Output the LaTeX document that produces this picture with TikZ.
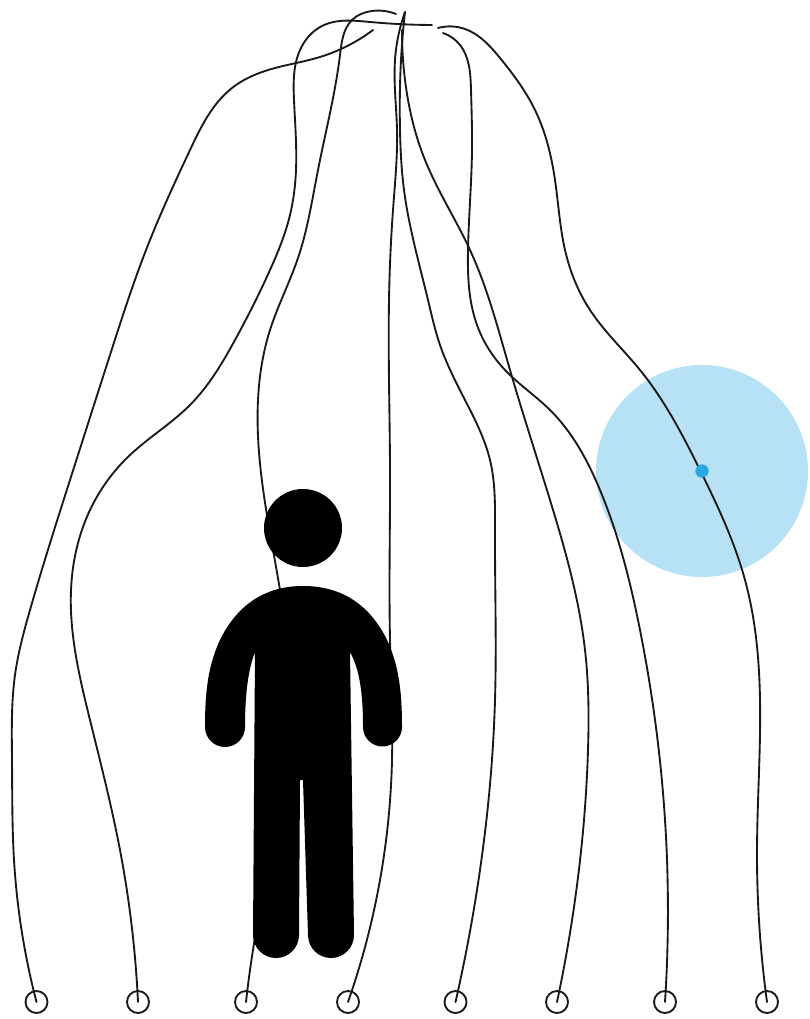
\documentclass[tikz,border=0pt]{standalone}
\usetikzlibrary{hobby}
\begin{document}
\begin{tikzpicture}[x=0.75pt,y=-0.75pt,
  wire/.style={draw=black!90,line width=1.4pt,line cap=round,use Hobby shortcut},
  port/.style={circle,draw=black!90,line width=1.4pt,minimum size=16.5pt,inner sep=0pt,fill=white},
  figure/.style={fill=black,draw=none}]
\useasboundingbox (0,0) rectangle (809,1019);
\definecolor{halo}{HTML}{B7E2F5}
\definecolor{spot}{HTML}{29A9E0}
\fill[halo] (702,471) circle[radius=106];
% ports
\node[port] (p1) at (36.5,1002) {};
\node[port] (p2) at (138,1002) {};
\node[port] (p3) at (246,1002) {};
\node[port] (p4) at (348,1002) {};
\node[port] (p5) at (455.5,1002) {};
\node[port] (p6) at (557,1002) {};
\node[port] (p7) at (665,1002) {};
\node[port] (p8) at (767,1002) {};
% free ends
\coordinate (a) at (373,30);
\coordinate (b) at (432,25);
\coordinate (c) at (396,14);
\coordinate (d) at (405,12);
\coordinate (e) at (402,30);
\coordinate (f) at (443,33);
\coordinate (g) at (438,28);
% wires
\draw[wire] (a) .. (320,57) .. (265,71) .. (232,88) .. (190,150) .. (148,245) .. (110,355) .. (70,480) .. (30,610) .. (15,675) .. (12,760) .. (14,860) .. (p1.center);
\draw[wire] (b) .. (370,22) .. (322,26) .. (300,50) .. (294,100) .. (296,170) .. (290,215) .. (270,270) .. (235,340) .. (190,405) .. (130,455) .. (90,510) .. (71,590) .. (90,720) .. (120,850) .. (p2.center);
\draw[wire] (c) .. (372,11) .. (352,20) .. (340,55) .. (318,170) .. (298,258) .. (270,330) .. (258,400) .. (280,590) .. (290,750) .. (262,900) .. (p3.center);
\draw[wire] (d) .. (401,60) .. (400,130) .. (404,190) .. (428,300) .. (440,345) .. (465,400) .. (490,460) .. (495,530) .. (495,700) .. (480,870) .. (p5.center);
\draw[wire] (d) .. (395,60) .. (397,130) .. (393,210) .. (389,300) .. (390,470) .. (390,640) .. (392,760) .. (380,880) .. (p4.center);
\draw[wire] (e) .. (405,80) .. (425,160) .. (470,250) .. (510,370) .. (550,500) .. (585,650) .. (588,750) .. (575,900) .. (p6.center);
\draw[wire] (f) .. (460,45) .. (471,90) .. (472,150) .. (468,250) .. (477,325) .. (505,370) .. (550,410) .. (600,490) .. (640,630) .. (665,820) .. (p7.center);
\draw[wire] (g) .. (465,29) .. (500,58) .. (535,110) .. (555,180) .. (565,250) .. (590,310) .. (640,370) .. (700,470) .. (745,580) .. (760,700) .. (757,850) .. (p8.center);
% marker
\node[circle,fill=spot,minimum size=10pt,inner sep=0pt] (m) at (702,471) {};
% person
\node[circle,figure,minimum size=58.5pt,inner sep=0pt] (head) at (303,528) {};
\fill[black] (303,586)
  .. controls (345,586) and (372,608) .. (388,642)
  .. controls (398,665) and (402,688) .. (402,727)
  arc[start angle=0,end angle=180,radius=19.5]
  .. controls (363,695) and (360,670) .. (350,652)
  -- (354,935)
  arc[start angle=0,end angle=180,radius=23]
  -- (303,780) -- (300,780) -- (299,935)
  arc[start angle=0,end angle=180,radius=23]
  -- (255,652)
  .. controls (248,670) and (245,695) .. (245,727)
  arc[start angle=0,end angle=180,radius=20]
  .. controls (205,688) and (209,665) .. (219,642)
  .. controls (235,608) and (262,586) .. (303,586) -- cycle;
\end{tikzpicture}
\end{document}
